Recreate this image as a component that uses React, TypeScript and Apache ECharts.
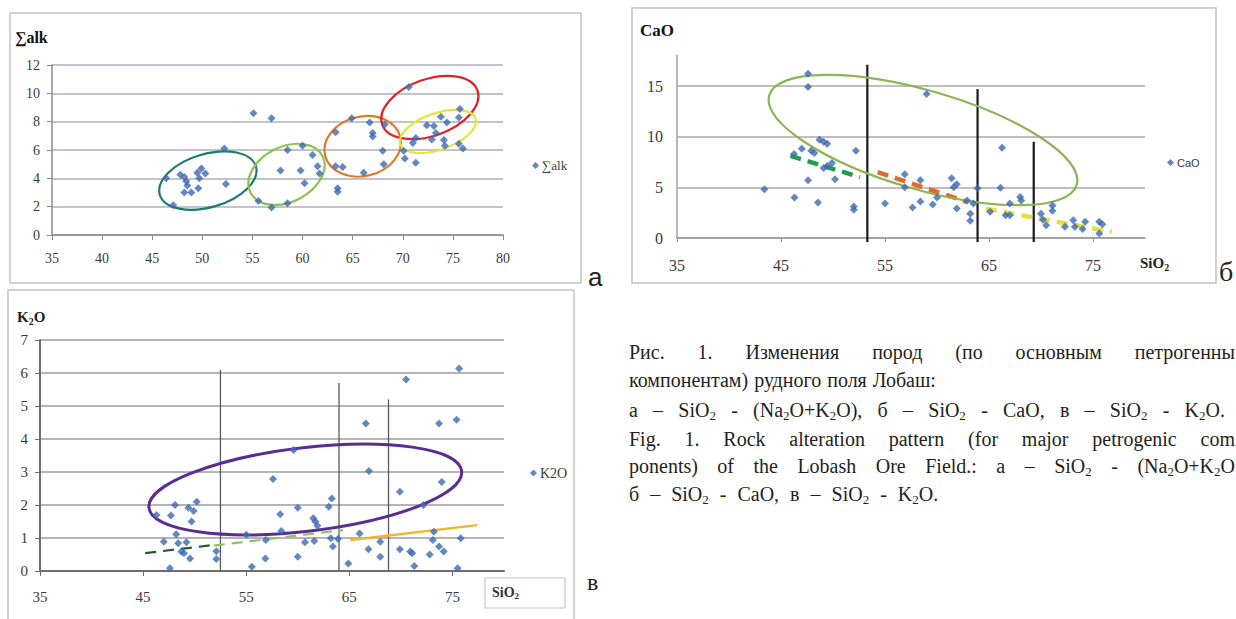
import React, { useEffect, useRef } from 'react';
import * as echarts from 'echarts';

// ---------- DATA ----------
// Chart а: SiO2 vs ∑alk
const alkPoints: [number, number][] = [
  [46.4, 4.0], [47.1, 2.1], [47.8, 4.25], [48.2, 4.1], [48.4, 3.8], [48.2, 3.0], [48.5, 3.5], [48.9, 3.0],
  [49.5, 4.4], [49.7, 4.0], [49.9, 4.7], [50.3, 4.35], [49.6, 3.3], [52.35, 3.6], [52.2, 6.1], [55.1, 8.6],
  [56.9, 8.25], [55.6, 2.4], [56.9, 1.95], [58.5, 2.25], [57.8, 4.55], [58.5, 6.0], [60.0, 6.3], [59.8, 4.55],
  [60.2, 3.65], [61.0, 5.65], [61.5, 4.85], [61.7, 4.35], [63.3, 7.25], [63.3, 4.85], [64.0, 4.8], [63.5, 3.3],
  [63.5, 3.05], [64.9, 8.25], [66.1, 4.4], [66.7, 7.95], [67.0, 7.2], [67.0, 6.95], [68.2, 7.8], [68.0, 5.95],
  [68.1, 5.0], [70.6, 10.45], [70.1, 5.95], [70.2, 5.4], [71.0, 6.5], [71.3, 6.85], [71.3, 5.1], [72.4, 7.75],
  [73.1, 7.7], [73.3, 7.2], [72.9, 6.75], [73.8, 8.35], [74.1, 6.7], [74.2, 6.3], [74.4, 7.95], [75.7, 8.9],
  [75.6, 8.3], [75.6, 6.45], [76.0, 6.1],
];
// ellipses: [centerX, centerY, semi-major (x units), semi-minor (y units), rotation deg]
const alkEllipses: number[][] = [
  [50.55, 3.84, 5.0, 1.88, 16.4],
  [58.4, 4.28, 4.03, 1.94, 26.8],
  [66.0, 6.26, 3.86, 2.1, 14],
  [72.7, 9.0, 5.05, 2.0, 19.7],
  [73.5, 7.31, 3.97, 1.29, 18.9],
];

// Chart б: SiO2 vs CaO
const caoPoints: [number, number][] = [
  [43.4, 4.8], [46.3, 4.0], [46.25, 8.3], [47.0, 8.8], [47.6, 16.2], [47.6, 14.9], [47.6, 5.7], [47.9, 8.6],
  [48.2, 8.4], [48.55, 3.5], [48.7, 9.7], [49.1, 9.5], [49.45, 9.3], [49.1, 6.9], [49.45, 7.1], [49.9, 7.4],
  [50.2, 5.8], [52.0, 3.1], [52.0, 2.8], [52.2, 8.6], [55.0, 3.4], [56.9, 6.3], [56.9, 5.0], [57.65, 3.0],
  [58.4, 5.7], [58.4, 3.6], [59.0, 14.2], [59.6, 3.3], [60.0, 4.0], [61.4, 5.9], [61.6, 5.0], [61.9, 5.3],
  [61.9, 2.9], [62.9, 3.7], [63.2, 2.4], [63.2, 1.7], [63.5, 3.4], [63.9, 4.9], [65.1, 2.6], [66.25, 8.9],
  [66.1, 4.95], [66.6, 2.25], [67.0, 3.4], [67.0, 2.25], [68.0, 4.05], [68.1, 3.7], [70.0, 2.4], [70.2, 1.8],
  [70.5, 1.25], [71.1, 3.2], [71.1, 2.7], [72.3, 1.1], [73.1, 1.75], [73.25, 1.1], [74.25, 1.6], [74.0, 0.9],
  [75.6, 1.6], [75.6, 0.45], [75.9, 1.35],
];
const caoEllipses: number[][] = [[58.65, 9.67, 15.4, 4.88, -16.2]];
// boundaries: [x, bottom, top]
const caoBoundaries: number[][] = [[53.3, -0.4, 17.1], [63.9, -0.4, 14.7], [69.3, -0.4, 9.5]];
// trend segments: [x1, y1, x2, y2]
const caoTrends: number[][] = [
  [45.9, 8.1, 52.6, 6.0],
  [54.3, 6.5, 62.9, 3.55],
  [64.7, 2.9, 76.8, 0.6],
];

// Chart в: SiO2 vs K2O
const k2oPoints: [number, number][] = [
  [46.3, 1.7], [47.0, 0.89], [47.6, 0.08], [47.7, 1.68], [48.1, 2.0], [48.2, 1.11], [48.4, 0.84], [48.7, 0.59],
  [48.96, 0.54], [49.2, 0.87], [49.4, 1.92], [49.55, 0.38], [49.7, 1.5], [49.9, 1.82], [50.2, 2.1], [52.1, 0.6],
  [52.1, 0.36], [55.0, 1.1], [55.55, 0.13], [56.85, 0.38], [56.9, 0.94], [57.6, 2.79], [58.4, 1.21], [58.3, 1.72],
  [59.6, 3.67], [60.0, 1.92], [60.0, 0.43], [60.7, 0.87], [61.5, 1.6], [61.7, 1.5], [61.6, 0.91], [61.9, 1.37],
  [63.0, 1.95], [63.3, 2.2], [63.2, 0.99], [63.4, 0.74], [63.9, 0.97], [64.9, 0.23], [66.0, 1.14], [66.6, 4.47],
  [66.85, 0.66], [66.9, 3.03], [68.0, 0.89], [68.0, 0.43], [69.9, 2.4], [69.9, 0.66], [70.5, 5.8], [70.9, 0.59],
  [71.1, 0.54], [71.3, 0.15], [72.2, 2.0], [72.8, 0.5], [73.1, 0.94], [73.2, 1.19], [73.7, 4.47], [73.7, 0.74],
  [73.96, 2.7], [74.15, 0.59], [75.4, 4.58], [75.5, 0.08], [75.65, 6.14], [75.8, 0.99],
];
const k2oEllipses: number[][] = [[60.73, 2.47, 15.27, 1.266, 6.7]];
const k2oBoundaries: number[][] = [[52.5, 0, 6.1], [64.0, 0, 5.7], [68.8, 0, 5.2]];
const k2oTrends: number[][] = [
  [45.2, 0.54, 51.85, 0.79],
  [51.85, 0.77, 64.4, 1.24],
  [65.1, 0.94, 77.4, 1.39],
];

// Caption (as visible in the figure, the right column is cut by the page edge)
const captionLines: string[] = [
  'Рис. 1. Изменения пород (по основным петрогенны',
  'компонентам) рудного поля Лобаш:',
  'а – SiO_2 - (Na_2O+K_2O), б – SiO_2 - CaO, в – SiO_2 - K_2O.',
  'Fig. 1. Rock alteration pattern (for major petrogenic com',
  'ponents) of the Lobash Ore Field.: а – SiO_2 - (Na_2O+K_2O',
  'б – SiO_2 - CaO, в – SiO_2 - K_2O.',
];

// ---------- STYLE ----------
const SERIF = 'Liberation Serif, Times New Roman, serif';
const SANS = 'Liberation Sans, Arial, sans-serif';
const POINT = '#3d69b2';
const ALK_COLORS = ['#1d7a6c', '#8cc152', '#e07a2c', '#e0222c', '#e4e63c'];
const CAO_TREND_COLORS = ['#1f9e4c', '#e06a2a', '#e3df4a'];
const K2O_TREND_COLORS = ['#1f5a30', '#8cc46c', '#f0b629'];
const K2O_TREND_DASH = [true, true, false];
// right edge for justified lines, or fixed word gap (negative) for ragged lines
const CAP = { left: 629, size: 20, ys: [352, 380, 410, 439, 466, 494], rights: [1235, -6, 1225, 1235, 1235, -11] };

function parseSegs(tok: string) {
  const segs: { t: string; sub: boolean }[] = [];
  let cur = '';
  for (let i = 0; i < tok.length; i++) {
    if (tok[i] === '_' && i + 1 < tok.length) {
      if (cur) segs.push({ t: cur, sub: false });
      cur = '';
      segs.push({ t: tok[i + 1], sub: true });
      i++;
    } else cur += tok[i];
  }
  if (cur) segs.push({ t: cur, sub: false });
  return segs;
}

function richStr(tok: string) {
  return parseSegs(tok).map((s) => (s.sub ? `{s|${s.t}}` : `{n|${s.t}}`)).join('');
}

function richStyles(size: number, weight: string, color: string) {
  return {
    n: { fontSize: size, fontFamily: SERIF, fontWeight: weight, fill: color, lineHeight: Math.round(size * 1.2), verticalAlign: 'middle' },
    s: { fontSize: Math.round(size * 0.65), fontFamily: SERIF, fontWeight: weight, fill: color, lineHeight: Math.round(size * 0.6), verticalAlign: 'bottom' },
  };
}

function richText(tok: string, x: number, y: number, size: number, weight = 'normal', color = '#1e1e1e') {
  return {
    type: 'text', x, y, silent: true,
    style: { text: richStr(tok), rich: richStyles(size, weight, color), align: 'left', verticalAlign: 'middle', textAlign: 'left', textVerticalAlign: 'middle' },
  };
}

function buildCaption() {
  const ctx = document.createElement('canvas').getContext('2d') as CanvasRenderingContext2D;
  const width = (tok: string) =>
    parseSegs(tok).reduce((w, s) => {
      ctx.font = `${s.sub ? Math.round(CAP.size * 0.65) : CAP.size}px ${SERIF}`;
      return w + ctx.measureText(s.t).width;
    }, 0);
  const els: any[] = [];
  captionLines.forEach((line, li) => {
    const toks = line.split(' ');
    const ws = toks.map(width);
    const total = ws.reduce((a, b) => a + b, 0);
    const right = CAP.rights[li];
    const gap = right > 0 ? (right - CAP.left - total) / (toks.length - 1) : -right;
    let x = CAP.left;
    toks.forEach((t, i) => {
      els.push(richText(t, x, CAP.ys[li], CAP.size, 'normal', '#231f20'));
      x += ws[i] + gap;
    });
  });
  return els;
}

function ellipseSeries(idx: number, data: number[][], colors: string[], lw: number) {
  return {
    type: 'custom', xAxisIndex: idx, yAxisIndex: idx, silent: true, clip: false, z: 5,
    data, encode: { x: 0, y: 1 },
    renderItem: (params: any, api: any) => {
      const c = api.coord([api.value(0), api.value(1)]);
      const rx = api.size([api.value(2), 0])[0];
      const ry = api.size([0, api.value(3)])[1];
      return {
        type: 'ellipse', x: c[0], y: c[1], rotation: (api.value(4) * Math.PI) / 180,
        shape: { cx: 0, cy: 0, rx, ry },
        style: { fill: 'none', stroke: colors[params.dataIndex % colors.length], lineWidth: lw },
      };
    },
  };
}

function segSeries(idx: number, pts: number[][], color: string, width: number, dashed: boolean) {
  return {
    type: 'line', xAxisIndex: idx, yAxisIndex: idx, data: pts, symbol: 'none', silent: true, clip: false, z: 4,
    lineStyle: { color, width, type: dashed ? [11, 7] : 'solid' },
  };
}

function scatter(idx: number, name: string, data: [number, number][], size: number) {
  return {
    type: 'scatter', name, xAxisIndex: idx, yAxisIndex: idx, data, symbol: 'diamond', symbolSize: size,
    itemStyle: { color: POINT }, z: 6,
  };
}

const lbl = (size: number, margin: number, extra: any = {}) => ({
  fontFamily: SERIF, fontSize: size, color: '#3a3a3a', margin, ...extra,
});

const plainText = (text: string, x: number, y: number, size: number, family: string) => ({
  type: 'text', x, y, silent: true,
  style: { text, fontSize: size, fontFamily: family, fill: '#222', align: 'left', verticalAlign: 'middle', textAlign: 'left', textVerticalAlign: 'middle' },
});

export default function App() {
  const ref = useRef<HTMLDivElement>(null);
  useEffect(() => {
    if (!ref.current) return;
    const chart = echarts.init(ref.current, undefined, { renderer: 'svg' });

    const series: any[] = [
      ellipseSeries(0, alkEllipses, ALK_COLORS, 2.2),
      scatter(0, '∑alk', alkPoints, 8),
      ellipseSeries(1, caoEllipses, ['#8db456'], 2.2),
      ...caoBoundaries.map((b) => segSeries(1, [[b[0], b[1]], [b[0], b[2]]], '#1a1a1a', 2.2, false)),
      ...caoTrends.map((t, i) => segSeries(1, [[t[0], t[1]], [t[2], t[3]]], CAO_TREND_COLORS[i], 4.5, true)),
      scatter(1, 'CaO', caoPoints, 8),
      ellipseSeries(2, k2oEllipses, ['#5a2d91'], 3),
      ...k2oBoundaries.map((b) => segSeries(2, [[b[0], b[1]], [b[0], b[2]]], '#5a5a5a', 1.3, false)),
      ...k2oTrends.map((t, i) => segSeries(2, [[t[0], t[1]], [t[2], t[3]]], K2O_TREND_COLORS[i], i === 2 ? 2.5 : 2.2, K2O_TREND_DASH[i])),
      scatter(2, 'K2O', k2oPoints, 8),
    ];

    const legendBase = {
      icon: 'diamond', itemWidth: 7, itemHeight: 7, padding: 0, itemGap: 4, selectedMode: false,
    };

    chart.setOption({
      animation: false,
      backgroundColor: '#ffffff',
      grid: [
        { left: 52, top: 65, width: 451, height: 170 },
        { left: 677, top: 55.6, width: 468, height: 182.4 },
        { left: 40, top: 340, width: 464, height: 231 },
      ],
      xAxis: [
        {
          gridIndex: 0, type: 'value', min: 35, max: 80, interval: 5,
          axisLine: { show: true, lineStyle: { color: '#8a8a8a', width: 1.5 } },
          axisTick: { show: true, length: 5, lineStyle: { color: '#8a8a8a' } },
          axisLabel: lbl(14, 16), splitLine: { show: false },
        },
        {
          gridIndex: 1, type: 'value', min: 35, max: 80, interval: 10,
          axisLine: { show: true, lineStyle: { color: '#9a9a9a', width: 1.5 } },
          axisTick: { show: true, length: 4, lineStyle: { color: '#9a9a9a' } },
          axisLabel: lbl(16, 19, { showMaxLabel: false }), splitLine: { show: false },
        },
        {
          gridIndex: 2, type: 'value', min: 35, max: 80, interval: 10,
          axisLine: { show: true, lineStyle: { color: '#6e6e6e', width: 2 } },
          axisTick: { show: true, length: 5, lineStyle: { color: '#6e6e6e' } },
          axisLabel: lbl(15, 18, { showMaxLabel: false }), splitLine: { show: false },
        },
      ],
      yAxis: [
        {
          gridIndex: 0, type: 'value', min: 0, max: 12, interval: 2,
          axisLine: { show: true, lineStyle: { color: '#8a8a8a', width: 1.5 } },
          axisTick: { show: true, length: 5, lineStyle: { color: '#8a8a8a' } },
          axisLabel: lbl(14, 12),
          splitLine: { show: true, lineStyle: { color: '#c3c3cb', width: 2 } },
        },
        {
          gridIndex: 1, type: 'value', min: 0, max: 18, interval: 5,
          axisLine: { show: true, lineStyle: { color: '#a0a0a0', width: 1.5 } },
          axisTick: { show: false },
          axisLabel: lbl(16, 14, { showMaxLabel: false }),
          splitLine: { show: true, showMaxLine: false, lineStyle: { color: '#a8a8a8', width: 1.5 } },
        },
        {
          gridIndex: 2, type: 'value', min: 0, max: 7, interval: 1,
          axisLine: { show: true, lineStyle: { color: '#6e6e6e', width: 2 } },
          axisTick: { show: true, length: 5, lineStyle: { color: '#6e6e6e' } },
          axisLabel: lbl(15, 12),
          splitLine: { show: true, lineStyle: { color: '#9c9c9c', width: 1.6 } },
        },
      ],
      legend: [
        { ...legendBase, data: ['∑alk'], left: 532, top: 159, textStyle: { fontFamily: SERIF, fontSize: 13, color: '#3a3a3a', padding: [0, 0, 0, -2] } },
        { ...legendBase, data: ['CaO'], left: 1167, top: 157, textStyle: { fontFamily: SANS, fontSize: 11, color: '#3a3a3a', padding: [0, 0, 0, -2] } },
        { ...legendBase, data: ['K2O'], left: 530, top: 466, textStyle: { fontFamily: SERIF, fontSize: 14, color: '#3a3a3a', padding: [0, 0, 0, -2] } },
      ],
      graphic: [
        { type: 'rect', silent: true, shape: { x: 10, y: 13, width: 571, height: 270 }, style: { fill: 'none', stroke: '#c4c4c4', lineWidth: 1.5 } },
        { type: 'rect', silent: true, shape: { x: 632, y: 8, width: 584, height: 275 }, style: { fill: 'none', stroke: '#c4c4c4', lineWidth: 1.5 } },
        { type: 'rect', silent: true, shape: { x: 8, y: 290, width: 566, height: 345 }, style: { fill: 'none', stroke: '#c4c4c4', lineWidth: 1.5 } },
        { type: 'rect', silent: true, shape: { x: 485, y: 578, width: 80, height: 30 }, style: { fill: 'none', stroke: '#c4c4c4', lineWidth: 1.2 } },
        richText('∑alk', 15, 37, 16, 'bold', '#111'),
        richText('CaO', 640, 30, 17, 'bold', '#111'),
        richText('K_2O', 17, 317, 15, 'bold', '#222'),
        richText('SiO_2', 1140, 263, 15, 'bold', '#222'),
        richText('SiO_2', 492, 592, 14, 'bold', '#333'),
        plainText('а', 588, 277, 26, SANS),
        plainText('б', 1219, 271, 28, SERIF),
        plainText('в', 587, 582, 24, SERIF),
        ...buildCaption(),
      ],
      series,
    });
    return () => chart.dispose();
  }, []);
  return <div ref={ref} style={{ position: 'fixed', left: 0, top: 0, width: 1236, height: 619 }} />;
}
